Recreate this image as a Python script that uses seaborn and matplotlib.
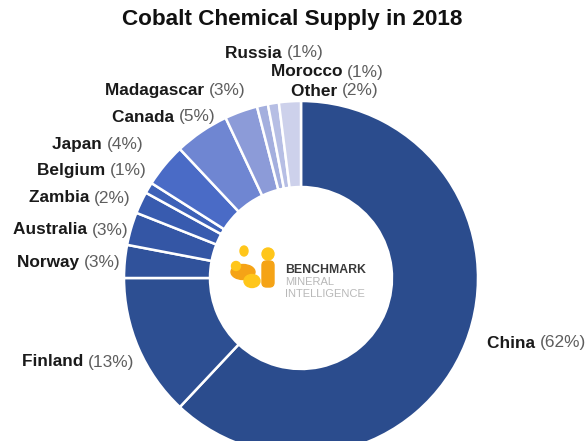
import matplotlib
matplotlib.use("Agg")
import matplotlib.pyplot as plt
import seaborn as sns
from matplotlib.patches import FancyBboxPatch, Ellipse

# Cobalt chemical supply shares (percent), clockwise from 12 o'clock
countries = ["China", "Finland", "Norway", "Australia", "Zambia", "Belgium",
             "Japan", "Canada", "Madagascar", "Russia", "Morocco", "Other"]
shares = [62, 13, 3, 3, 2, 1, 4, 5, 3, 1, 1, 2]

colors = ["#2B4C8D", "#2D4F92", "#30529B", "#3456A5", "#385BAF", "#3D61B8",
          "#4A6BC6", "#6F86D2", "#8C9BD8", "#A4AFDE", "#B6BEE4", "#CDD1EB"]

# label anchors (left edge x, centre y) in pixels from the top-left corner
label_pos = {
    "China": (487, 343), "Finland": (22, 362), "Norway": (17, 263),
    "Australia": (13, 230), "Zambia": (29, 198), "Belgium": (37, 170),
    "Japan": (52, 145), "Canada": (112, 117), "Madagascar": (105, 90),
    "Russia": (225, 53), "Morocco": (271, 72), "Other": (291, 91),
}

sns.set_theme(style="white")
plt.rcParams["font.family"] = ["Liberation Sans", "DejaVu Sans"]

W, H, DPI = 588, 441, 100
CX, CY, R = 301, 278, 177          # donut centre and outer radius (px)

fig = plt.figure(figsize=(W / DPI, H / DPI), dpi=DPI)
ax = fig.add_axes([0, 0, 1, 1])

ax.pie(shares, colors=colors, startangle=90, counterclock=False,
       radius=1.0, wedgeprops=dict(width=0.486, edgecolor="white", linewidth=1.8))

ax.set_xlim(-CX / R, (W - CX) / R)
ax.set_ylim((CY - H) / R, CY / R)
ax.set_aspect("auto")
ax.axis("off")


def px(x, y):
    return (x - CX) / R, (CY - y) / R


fig.text(292 / W, 1 - 20 / H, "Cobalt Chemical Supply in 2018", ha="center",
         va="center", fontsize=16.2, fontweight="bold", color="#111111")

fig.canvas.draw()
renderer = fig.canvas.get_renderer()
for name, val in zip(countries, shares):
    lx, ly = label_pos[name]
    x, y = px(lx, ly)
    t = ax.text(x, y, name + " ", ha="left", va="center", fontsize=12.4,
                fontweight="bold", color="#1a1a1a")
    bb = t.get_window_extent(renderer)
    x2 = ax.transData.inverted().transform((bb.x1, bb.y0))[0]
    ax.text(x2, y, f"({val}%)", ha="left", va="center", fontsize=12.4,
            color="#5e5e5e")

# centre logo
yel, org = "#FFC61A", "#F5A316"
logo = [
    Ellipse(px(244, 251), 8 / R, 10 / R, color=yel),
    Ellipse(px(268, 254), 12 / R, 12 / R, color=yel),
    FancyBboxPatch(px(262, 287), 12 / R, 26 / R,
                   boxstyle="round,pad=0,rounding_size=0.025", color=org),
    Ellipse(px(243, 272), 24 / R, 15 / R, color=org),
    Ellipse(px(252, 281), 16 / R, 13 / R, color=yel),
    Ellipse(px(236, 266), 9 / R, 9 / R, color=yel),
]
for p in logo:
    ax.add_patch(p)

ax.text(*px(285, 270), "BENCHMARK", ha="left", va="center", fontsize=8.8,
        fontweight="bold", color="#3a3a3a")
ax.text(*px(285, 282), "MINERAL", ha="left", va="center", fontsize=8,
        color="#b8b8b8")
ax.text(*px(285, 294), "INTELLIGENCE", ha="left", va="center", fontsize=8,
        color="#b8b8b8")

fig.savefig("out.png", dpi=DPI)
